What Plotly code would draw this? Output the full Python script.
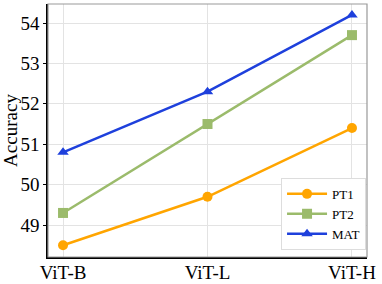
import plotly.graph_objects as go

categories = ["ViT-B", "ViT-L", "ViT-H"]
pt1 = [48.5, 49.7, 51.4]
pt2 = [49.3, 51.5, 53.7]
mat = [50.8, 52.3, 54.2]
y_ticks = [49, 50, 51, 52, 53, 54]

series = [
    ("PT1", pt1, "#FFA500", "circle"),
    ("PT2", pt2, "#9BBB6B", "square"),
    ("MAT", mat, "#1E40DC", "triangle-up"),
]

fig = go.Figure()
for name, vals, color, sym in series:
    fig.add_trace(go.Scatter(
        x=categories, y=vals, name=name, mode="lines+markers",
        line=dict(color=color, width=2.5),
        marker=dict(symbol=sym, size=10, color=color),
    ))

font_family = "Times New Roman"
fig.update_layout(
    width=382, height=284,
    margin=dict(l=48, r=15, t=4, b=27),
    paper_bgcolor="white", plot_bgcolor="white",
    font=dict(family=font_family, color="black"),
    showlegend=True,
    legend=dict(
        x=0.997, y=0.028, xanchor="right", yanchor="bottom",
        bgcolor="white", bordercolor="#dddddd", borderwidth=1,
        font=dict(size=13, family=font_family),
        tracegroupgap=0, itemwidth=40,
    ),
    shapes=[dict(type="rect", xref="paper", yref="paper", x0=0, y0=0, x1=1, y1=1,
                 line=dict(color="#999999", width=1.2), layer="above")],
)
fig.update_xaxes(
    type="category", range=[-0.104, 2.104], automargin=False,
    showgrid=True, gridcolor="#e3e3e3", gridwidth=1,
    showline=True, linecolor="black", linewidth=1.5,
    ticks="", tickfont=dict(size=19, family=font_family), zeroline=False,
    ticklabelstandoff=-3,
)
fig.update_yaxes(
    range=[48.21, 54.47], tickvals=y_ticks, automargin=False,
    showgrid=True, gridcolor="#e3e3e3", gridwidth=1,
    showline=True, linecolor="black", linewidth=1.5,
    ticks="outside", ticklen=3, tickcolor="black",
    tickfont=dict(size=19, family=font_family), zeroline=False,
    title=dict(text="Accuracy", font=dict(size=19, family=font_family), standoff=4),
)
fig.write_html(
    "out.html",
    config={"displayModeBar": False},
    post_script="document.body.style.margin='0';document.body.style.overflow='hidden';",
)
